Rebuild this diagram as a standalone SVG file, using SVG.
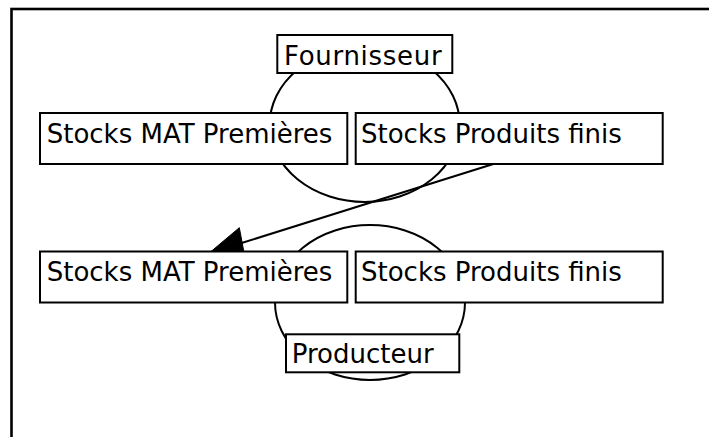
<svg xmlns="http://www.w3.org/2000/svg" width="709" height="437" viewBox="0 0 709 437">
<style>
.box{fill:#fff;stroke:#000;stroke-width:2}
.ell{fill:none;stroke:#000;stroke-width:2}
.t{font-family:"DejaVu Sans",sans-serif;font-size:26px;fill:#000}
.edge{stroke:#000;stroke-width:2;fill:none}
</style>
<rect x="0" y="0" width="709" height="437" fill="#fff"/>
<rect id="frame" x="11.5" y="9" width="800" height="600" fill="none" stroke="#000" stroke-width="2.6"/>
<g id="fournisseur-circle"><ellipse class="ell" cx="364.7" cy="124.5" rx="95" ry="77.5"/></g>
<g id="producteur-circle"><ellipse class="ell" cx="370" cy="302.5" rx="95" ry="77.5"/></g>
<g id="connectors">
<line class="edge" x1="493.3" y1="164" x2="240" y2="243.5"/>
<polygon points="211,251.5 239.3,227.7 245,257.7" fill="#000" stroke="#000" stroke-width="1"/>
</g>
<g id="fournisseur"><rect class="box" x="277.3" y="35" width="175" height="38"/><text class="t" x="284" y="65" letter-spacing="0.7">Fournisseur</text></g>
<g id="f-stocks-mat"><rect class="box" x="40" y="113" width="307.3" height="51"/><text class="t" x="46.7" y="142.7">Stocks MAT Premières</text></g>
<g id="f-stocks-pf"><rect class="box" x="355.7" y="113" width="307" height="51"/><text class="t" x="361" y="142.7">Stocks Produits finis</text></g>
<g id="p-stocks-mat"><rect class="box" x="40" y="251.5" width="307.3" height="51"/><text class="t" x="46.7" y="281">Stocks MAT Premières</text></g>
<g id="p-stocks-pf"><rect class="box" x="355.7" y="251.5" width="307" height="51"/><text class="t" x="361" y="281">Stocks Produits finis</text></g>
<g id="producteur"><rect class="box" x="286" y="334.3" width="173.3" height="38"/><text class="t" x="291.7" y="363.3">Producteur</text></g>
</svg>
